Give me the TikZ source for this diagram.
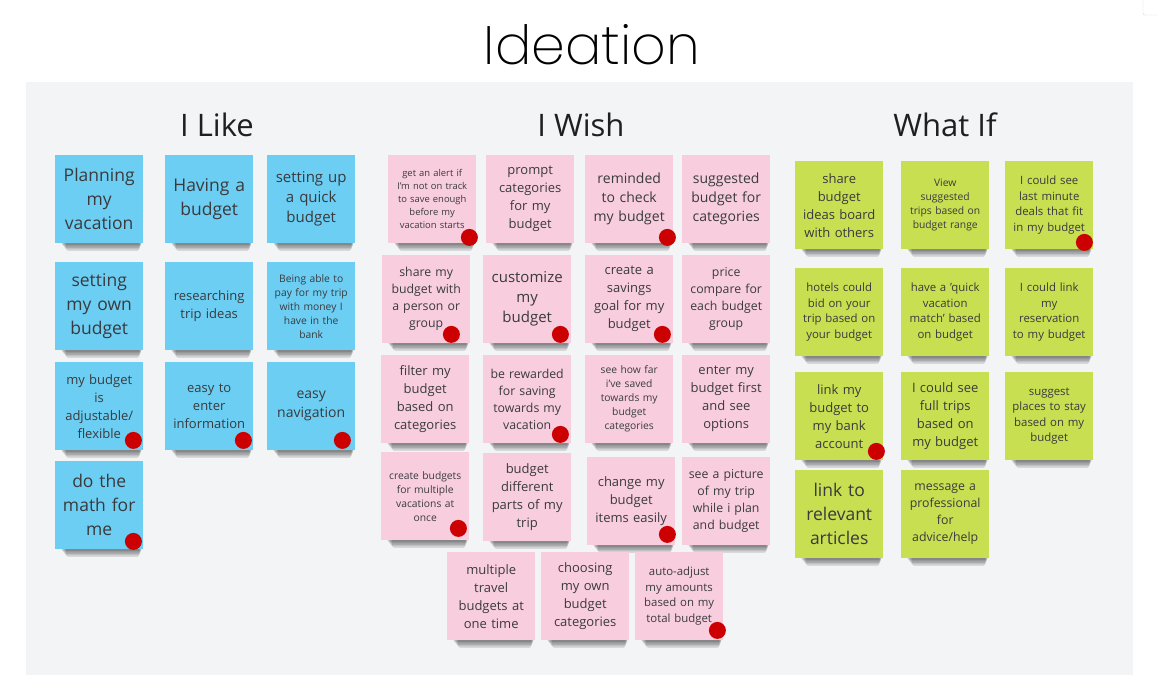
\documentclass[tikz,border=0pt]{standalone}
\usepackage{fontspec}
\setmainfont{Open Sans}
\newfontfamily\titlefont{Poppins ExtraLight}
\usetikzlibrary{calc}
\pgfdeclarelayer{back}
\pgfdeclarelayer{shade}
\pgfsetlayers{back,shade,main}
\definecolor{panel}{RGB}{243,244,246}
\definecolor{noteblue}{RGB}{108,206,243}
\definecolor{notepink}{RGB}{248,206,223}
\definecolor{notegreen}{RGB}{200,223,82}
\definecolor{dotred}{RGB}{204,0,0}
\definecolor{ink}{RGB}{58,58,62}
\tikzset{
  note/.style={minimum width=88pt, minimum height=88pt, inner sep=2pt, text width=84pt,
    align=center, text=ink, anchor=north west},
  blue/.style={note, fill=noteblue},
  pink/.style={note, fill=notepink},
  green/.style={note, fill=notegreen},
  fL/.style={font=\fontsize{17.5}{24}\selectfont},
  fA/.style={font=\fontsize{15}{20}\selectfont},
  fB/.style={font=\fontsize{14}{19}\selectfont},
  fM/.style={font=\fontsize{13}{18}\selectfont},
  fC/.style={font=\fontsize{12.3}{17}\selectfont},
  fD/.style={font=\fontsize{11.4}{15.5}\selectfont},
  fS/.style={font=\fontsize{10.3}{14}\selectfont},
  fX/.style={font=\fontsize{9.4}{13}\selectfont},
  header/.style={font=\fontsize{31}{36}\selectfont, text=black!88},
}
\newcommand\sticky[5]{%
  \node[#4] (#1) at (#2,#3) {#5};
  \begin{pgfonlayer}{shade}
    \foreach \k in {1,...,5}{
      \fill[black, opacity=.11, rounded corners=2.5pt]
        ($(#1.south west)+(5+1.2*\k,-3)$) rectangle ($(#1.south east)+(-1-0.6*\k,1.5*\k)$);
    }
  \end{pgfonlayer}
}
\newcommand\reddot[3]{\fill[dotred] ($(#1.south east)+(#2,#3)$) circle (8.5pt);}
\begin{document}
\begin{tikzpicture}[x=1pt, y=-1pt]
\useasboundingbox (0,0) rectangle (1158,689);
\begin{pgfonlayer}{back}
  \fill[white] (0,0) rectangle (1158,689);
  \fill[panel] (26,82) rectangle (1133,675);
  \draw[black!15, fill=white, rounded corners=2pt] (1143,-4) rectangle (1163,15);
\end{pgfonlayer}
\node[font=\titlefont\fontsize{54}{60}\selectfont, text=black] (title) at (592,45) {Ideation};
\node[header] (hlike) at (217,125) {I Like};
\node[header] (hwish) at (581,125) {I Wish};
\node[header] (hwhat) at (945,125) {What If};
% I Like
\sticky{l1}{55}{155}{blue,fL}{Planning\\my\\vacation}
\sticky{l2}{165}{155}{blue,fL}{Having a\\budget}
\sticky{l3}{267}{155}{blue,fA}{setting up\\a quick\\budget}
\sticky{l4}{55}{262}{blue,fL}{setting\\my own\\budget}
\sticky{l5}{165}{262}{blue,fM}{researching\\trip ideas}
\sticky{l6}{267}{262}{blue,fS}{Being able to\\pay for my trip\\with money I\\have in the\\bank}
\sticky{l7}{55}{362}{blue,fM}{my budget\\is\\adjustable/\\flexible}
\sticky{l8}{165}{362}{blue,fM}{easy to\\enter\\information}
\sticky{l9}{267}{362}{blue,fB}{easy\\navigation}
\sticky{l10}{55}{461}{blue,fL}{do the\\math for\\me}
\reddot{l7}{-10}{-10}
\reddot{l8}{-10}{-10}
\reddot{l9}{-13}{-10}
\reddot{l10}{-10}{-8}
% I Wish
\sticky{w1}{388}{155}{pink,fX}{get an alert if\\I'm not on track\\to save enough\\before my\\vacation starts}
\sticky{w2}{486}{155}{pink,fM}{prompt\\categories\\for my\\budget}
\sticky{w3}{585}{155}{pink,fB}{reminded\\to check\\my budget}
\sticky{w4}{682}{155}{pink,fB}{suggested\\budget for\\categories}
\sticky{w5}{382}{255}{pink,fC}{share my\\budget with\\a person or\\group}
\sticky{w6}{483}{255}{pink,fA}{customize\\my\\budget}
\sticky{w7}{585}{255}{pink,fM}{create a\\savings\\goal for my\\budget}
\sticky{w8}{682}{255}{pink,fC}{price\\compare for\\each budget\\group}
\sticky{w9}{381}{355}{pink,fM}{filter my\\budget\\based on\\categories}
\sticky{w10}{483}{355}{pink,fC}{be rewarded\\for saving\\towards my\\vacation}
\sticky{w11}{585}{355}{pink,fS}{see how far\\i've saved\\towards my\\budget\\categories}
\sticky{w12}{682}{355}{pink,fM}{enter my\\budget first\\and see\\options}
\sticky{w13}{381}{452}{pink,fS}{create budgets\\for multiple\\vacations at\\once}
\sticky{w14}{483}{453}{pink,fM}{budget\\different\\parts of my\\trip}
\sticky{w15}{587}{457}{pink,fM}{change my\\budget\\items easily}
\sticky{w16}{682}{457}{pink,fC}{see a picture\\of my trip\\while i plan\\and budget}
\sticky{w17}{447}{552}{pink,fM}{multiple\\travel\\budgets at\\one time}
\sticky{w18}{541}{552}{pink,fM}{choosing\\my own\\budget\\categories}
\sticky{w19}{635}{552}{pink,fD}{auto-adjust\\my amounts\\based on my\\total budget}
\reddot{w1}{-7}{-6}
\reddot{w3}{-6}{-6}
\reddot{w5}{-19}{-9}
\reddot{w6}{-11}{-9}
\reddot{w7}{-11}{-9}
\reddot{w10}{-11}{-9}
\reddot{w13}{-11}{-12}
\reddot{w15}{-8}{-11}
\reddot{w19}{-6}{-10}
% What If
\sticky{g1}{795}{161}{green,fM}{share\\budget\\ideas board\\with others}
\sticky{g2}{901}{161}{green,fS}{View\\suggested\\trips based on\\budget range}
\sticky{g3}{1005}{161}{green,fD}{I could see\\last minute\\deals that fit\\in my budget}
\sticky{g4}{795}{268}{green,fD}{hotels could\\bid on your\\trip based on\\your budget}
\sticky{g5}{901}{268}{green,fD}{have a 'quick\\vacation\\match' based\\on budget}
\sticky{g6}{1005}{268}{green,fD}{I could link\\my\\reservation\\to my budget}
\sticky{g7}{795}{372}{green,fM}{link my\\budget to\\my bank\\account}
\sticky{g8}{901}{372}{green,fM}{I could see\\full trips\\based on\\my budget}
\sticky{g9}{1005}{372}{green,fD}{suggest\\places to stay\\based on my\\budget}
\sticky{g10}{795}{470}{green,fL}{link to\\relevant\\articles}
\sticky{g11}{901}{470}{green,fC}{message a\\professional\\for\\advice/help}
\reddot{g3}{-9}{-7}
\reddot{g7}{-7}{-9}
\end{tikzpicture}
\end{document}
